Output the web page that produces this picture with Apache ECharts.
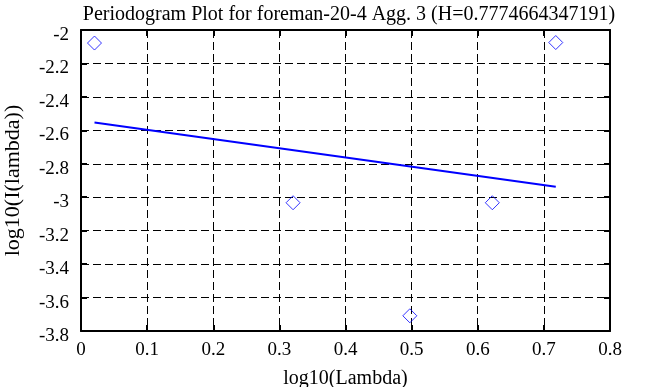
<!DOCTYPE html>
<html><head><meta charset="utf-8">
<script src="https://cdn.jsdelivr.net/npm/echarts@6/dist/echarts.min.js"></script>
<style>html,body{margin:0;padding:0;background:#fff}#c{width:653px;height:387px}</style>
</head><body><div id="c"></div>
<script>
var titleText = "Periodogram Plot for foreman-20-4 Agg. 3 (H=0.7774664347191)";
var xName = "log10(Lambda)";
var yName = "log10(I(lambda))";
var pointX = [0.0204, 0.3207, 0.4973, 0.622, 0.718];
var pointY = [-2.078, -3.033, -3.709, -3.033, -2.075];
var fitX = [0.0204, 0.718];
var fitY = [-2.553, -2.937];

var font = "Liberation Serif";
var chart = echarts.init(document.getElementById('c'), null, {renderer: 'canvas'});
var gridLine = {show: true, lineStyle: {color: '#000', type: [8, 4], width: 1}};
chart.setOption({
  animation: false,
  title: {text: titleText, left: 344, top: 0, textAlign: 'center',
    textStyle: {fontFamily: font, fontSize: 20, fontWeight: 'normal', color: '#000'}},
  grid: {left: 81, right: 43, top: 30, bottom: 56, containLabel: false, outerBoundsMode: 'none'},
  xAxis: [{
    type: 'value', min: 0, max: 0.8, interval: 0.1,
    name: xName, nameLocation: 'middle', nameGap: 38,
    nameTextStyle: {fontFamily: font, fontSize: 20, color: '#000'},
    axisLine: {show: true, onZero: false, lineStyle: {color: '#000', width: 2}},
    axisTick: {show: true, inside: true, length: 6, lineStyle: {color: '#000', width: 2}},
    axisLabel: {fontFamily: font, fontSize: 19, color: '#000', margin: 10,
      formatter: function (v) { return String(Math.round(v * 10) / 10); }},
    splitLine: gridLine
  }, {
    type: 'value', position: 'top', min: 0, max: 0.8, interval: 0.1,
    axisLine: {show: true, onZero: false, lineStyle: {color: '#000', width: 2}},
    axisTick: {show: true, inside: true, length: 6, lineStyle: {color: '#000', width: 2}},
    axisLabel: {show: false}, splitLine: {show: false}
  }],
  yAxis: [{
    type: 'value', min: -3.8, max: -2, interval: 0.2,
    name: yName, nameLocation: 'middle', nameGap: 57, nameRotate: 90,
    nameTextStyle: {fontFamily: font, fontSize: 22, color: '#000'},
    axisLine: {show: true, onZero: false, lineStyle: {color: '#000', width: 2}},
    axisTick: {show: true, inside: true, length: 6, lineStyle: {color: '#000', width: 2}},
    axisLabel: {fontFamily: font, fontSize: 19, color: '#000', margin: 12,
      verticalAlign: 'top', lineHeight: 10,
      formatter: function (v) { return String(Math.round(v * 10) / 10); }},
    splitLine: gridLine
  }, {
    type: 'value', position: 'right', min: -3.8, max: -2, interval: 0.2,
    axisLine: {show: true, onZero: false, lineStyle: {color: '#000', width: 2}},
    axisTick: {show: true, inside: true, length: 6, lineStyle: {color: '#000', width: 2}},
    axisLabel: {show: false}, splitLine: {show: false}
  }],
  series: [{
    type: 'scatter',
    data: pointX.map(function (x, i) { return [x, pointY[i]]; }),
    symbol: 'diamond', symbolSize: [14, 14],
    itemStyle: {color: 'transparent', borderColor: '#0000ff', borderWidth: 1}
  }, {
    type: 'line',
    data: fitX.map(function (x, i) { return [x, fitY[i]]; }),
    showSymbol: false, symbol: 'none',
    lineStyle: {color: '#0000ff', width: 2}
  }]
});
</script></body></html>
